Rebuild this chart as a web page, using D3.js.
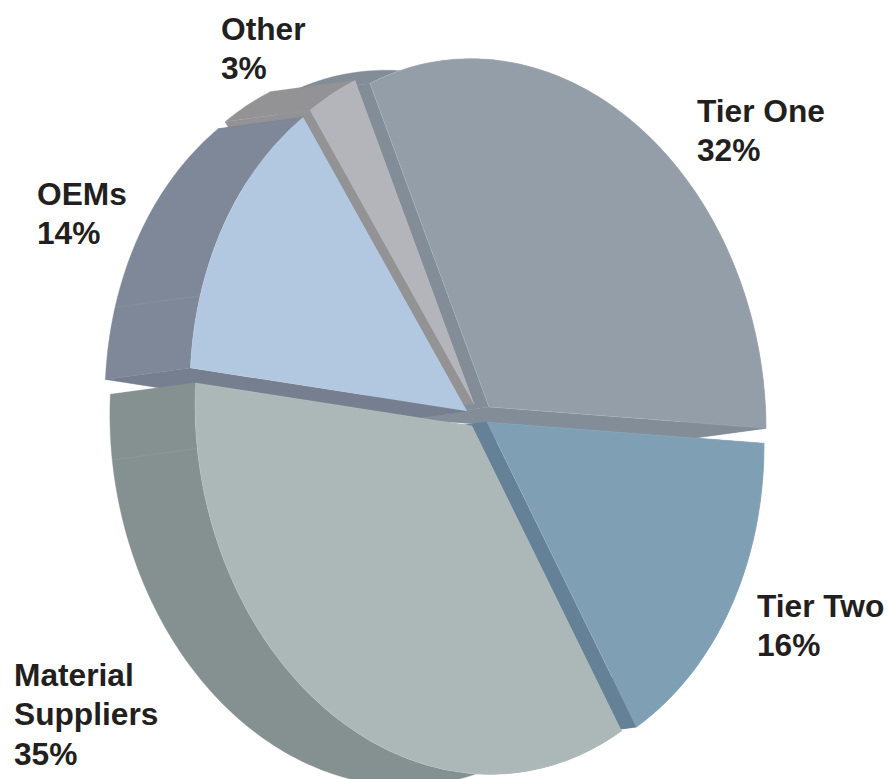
<!DOCTYPE html>
<html>
<head>
<meta charset="utf-8">
<script src="https://cdn.jsdelivr.net/npm/d3@7"></script>
<style>
html,body{margin:0;padding:0;background:#fff}
svg{display:block}
text{font-family:"Liberation Sans",Arial,sans-serif;font-weight:700;font-size:31.7px;fill:#231f20}
</style>
</head>
<body>
<svg id="chart" width="888" height="779"></svg>
<script>
// Market share by supplier type
const categories = ["Tier One", "Tier Two", "Material Suppliers", "OEMs", "Other"];
const shares = [32, 16, 35, 14, 3];
const labelLines = [["Tier One", "32%"], ["Tier Two", "16%"], ["Material", "Suppliers", "35%"], ["OEMs", "14%"], ["Other", "3%"]];
const faceColors = ["#939ea9", "#7f9fb5", "#acb8b7", "#b1c8e0", "#b3b5ba"];
const cutColors = ["#828d97", "#648197", "#859190", "#767f8f", "#939396"];
const rimColors = ["#828d97", "#648197", "#859190", "#7e8899", "#939396"];

const svg = d3.select("#chart");
const deg = Math.PI / 180;

// Layout of the oblique disc and its pulled-apart slices
const centre = [477, 415], rx = 277, ry = 348, shearY = 14, shearX = 7;
const project = (theta, r) => [
  centre[0] + r * (rx * Math.sin(theta) - shearX * Math.cos(theta)),
  centre[1] + r * (-ry * Math.cos(theta) + shearY * Math.sin(theta))
];
const depth = [-85, 11.5];
const sliceShift = [[12, -8], [10, 7], [-5, 11], [-10, -4], [-3, -11]];
const labelAnchors = [[697, 122], [757, 617], [14, 686], [37, 205], [221, 40]];
const seamAngles = [[], [], [264], [287], [325.2]];
const lineGen = d3.line();
const push = p => [p[0] + depth[0], p[1] + depth[1]];

const arcs = d3.pie().sort(null).value(d => d)
  .startAngle(-24 * deg).endAngle(336 * deg)(shares);

const slices = arcs.map((a, i) => {
  const off = sliceShift[i];
  const at = t => {
    const p = project(t, 1);
    return [p[0] + off[0], p[1] + off[1]];
  };
  const steps = Math.max(4, Math.ceil((a.endAngle - a.startAngle) / deg));
  const rim = d3.range(steps + 1).map(k => at(a.startAngle + (a.endAngle - a.startAngle) * k / steps));
  const apex = [centre[0] + off[0], centre[1] + off[1]];
  return { i, rim, apex, at };
});

// Sides first, furthest slices at the back, then every top face over them
const sideOrder = [0, 4, 3, 1, 2];
const sides = svg.append("g");
sideOrder.forEach(i => {
  const s = slices[i];
  const g = sides.append("g").attr("stroke-width", 0.4);
  const first = s.rim[0], last = s.rim[s.rim.length - 1];
  [[s.apex, first], [s.apex, last]].forEach(([p, q]) => {
    g.append("path")
      .attr("d", lineGen([p, q, push(q), push(p)]) + "Z")
      .attr("fill", cutColors[i]).attr("stroke", cutColors[i]);
  });
  g.append("path")
    .attr("d", lineGen([...s.rim, ...s.rim.map(push).reverse()]) + "Z")
    .attr("fill", rimColors[i]).attr("stroke", rimColors[i]);
  seamAngles[i].forEach(a => {
    const p = s.at(a * deg);
    g.append("path")
      .attr("d", lineGen([p, push(p)]))
      .attr("fill", "none").attr("stroke", "#ffffff")
      .attr("stroke-opacity", 0.08).attr("stroke-width", 0.8);
  });
});

const faces = svg.append("g");
slices.forEach(s => {
  faces.append("path")
    .attr("d", lineGen([s.apex, ...s.rim]) + "Z")
    .attr("fill", faceColors[s.i])
    .attr("stroke", "#ffffff").attr("stroke-opacity", 0.2).attr("stroke-width", 0.6);
});

// Category name and share, stacked beside each slice
const labels = svg.append("g");
labelLines.forEach((lines, i) => {
  const t = labels.append("text").attr("x", labelAnchors[i][0]).attr("y", labelAnchors[i][1]);
  lines.forEach((txt, k) => {
    t.append("tspan").attr("x", labelAnchors[i][0]).attr("dy", k ? 39.3 : 0).text(txt);
  });
});
</script>
</body>
</html>
